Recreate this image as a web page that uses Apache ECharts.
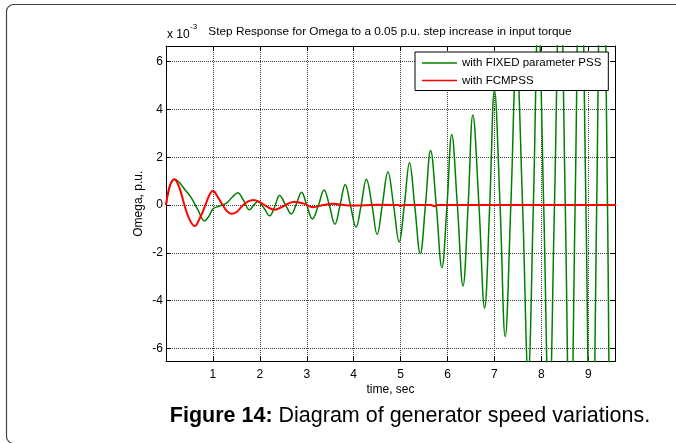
<!DOCTYPE html>
<html>
<head>
<meta charset="utf-8">
<title>Step Response for Omega</title>
<script src="https://cdn.jsdelivr.net/npm/echarts@6/dist/echarts.min.js"></script>
<style>
  html, body { margin: 0; padding: 0; background: #fff; }
  #chart { width: 676px; height: 443px; }
</style>
</head>
<body>
<div id="chart"></div>
<script>
// Time axis (s) and speed deviation (x 10^-3 p.u.) for the two stabilisers
const fixedPssTime = [
  0, 0.05, 0.10, 0.18, 0.28, 0.40, 0.54, 0.68, 0.82, 0.92,
  1.00, 1.14, 1.29, 1.42, 1.53, 1.65, 1.78, 1.87, 1.96, 2.08,
  2.21, 2.32, 2.42, 2.55, 2.67, 2.78, 2.89, 3.00, 3.12, 3.25,
  3.37, 3.48, 3.60, 3.71, 3.82, 3.93, 4.05, 4.16, 4.27, 4.39,
  4.50, 4.61, 4.73, 4.85, 4.97, 5.08, 5.19, 5.30, 5.42, 5.53,
  5.64, 5.76, 5.88, 5.99, 6.09, 6.21, 6.33, 6.44, 6.54, 6.67,
  6.79, 6.90, 7.00, 7.12, 7.23, 7.35, 7.47, 7.60, 7.72, 7.83,
  7.935, 8.05, 8.165, 8.28, 8.40, 8.51, 8.615, 8.72, 8.83, 8.95,
  9.065, 9.18, 9.295, 9.41, 9.52, 9.60
];
const fixedPssOmega = [
  0, 0.55, 0.90, 1.08, 0.95, 0.65, 0.30, -0.20, -0.66, -0.45,
  -0.16, -0.04, 0.08, 0.35, 0.52, 0.20, -0.20, 0.00, 0.15, -0.10,
  -0.45, -0.05, 0.40, 0.00, -0.37, 0.05, 0.54, 0.00, -0.58, 0.00,
  0.63, 0.00, -0.80, 0.00, 0.86, 0.00, -0.92, 0.00, 1.08, 0.00,
  -1.23, 0.00, 1.38, 0.00, -1.54, 0.00, 1.77, 0.00, -2.03, 0.00,
  2.28, 0.00, -2.61, 0.00, 2.95, 0.00, -3.38, 0.00, 3.77, 0.00,
  -4.30, 0.00, 4.81, 0.00, -5.50, 0.00, 6.20, 0.00, -7.10, 0.00,
  8.00, 0.00, -9.10, 0.00, 10.30, 0.00, -11.60, 0.00, 13.00, 0.00,
  -14.80, 0.00, 16.60, 0.00, -18.50, -16.00
];
const fcmpssTime = [
  0, 0.06, 0.12, 0.18, 0.26, 0.33, 0.40, 0.50, 0.61, 0.72,
  0.82, 0.92, 1.00, 1.10, 1.21, 1.30, 1.39, 1.50, 1.62, 1.75,
  1.87, 2.00, 2.10, 2.31, 2.50, 2.73, 2.95, 3.13, 3.35, 3.55,
  3.80, 4.00, 4.50, 4.95, 5.00, 5.05, 5.65, 5.72, 5.80, 6.50,
  7.50, 8.50, 9.60
];
const fcmpssOmega = [
  0, 0.65, 0.98, 1.08, 0.85, 0.45, -0.05, -0.60, -0.88, -0.55,
  -0.10, 0.40, 0.60, 0.35, 0.00, -0.25, -0.36, -0.30, -0.05, 0.15,
  0.21, 0.12, 0.00, -0.20, -0.05, 0.14, 0.05, -0.09, 0.00, 0.05,
  0.00, -0.02, 0.01, 0.00, -0.04, 0.00, 0.00, -0.05, 0.00, 0.00,
  0.00, 0.00, 0.00
];
const seriesNames = ['with FIXED parameter PSS', 'with FCMPSS'];
const xTickLabels = [1, 2, 3, 4, 5, 6, 7, 8, 9];
const yTickLabels = [-6, -4, -2, 0, 2, 4, 6];

const X_MIN = 0, X_MAX = 9.57;
const Y_MIN = -6.54, Y_MAX = 6.65;

const FONT = "'Liberation Sans', Arial, Helvetica, sans-serif";
const GRID_COLOR = '#3c3c3c';

const zip = (xs, ys) => xs.map((x, i) => [x, ys[i]]);

// fresh objects per axis so the option merge never shares state
const tick = () => ({ show: true, inside: true, length: 5, lineStyle: { color: '#000', width: 1 } });
const axisLine = () => ({ show: true, onZero: false, lineStyle: { color: '#000', width: 1 } });
const legendLine = 'path://M0,0H35V1.6H0Z';

const chart = echarts.init(document.getElementById('chart'), null, { renderer: 'canvas' });

chart.setOption({
  animation: false,
  backgroundColor: '#fff',
  grid: { left: 166, right: 61, top: 46, bottom: 81.5, containLabel: false },
  xAxis: [
    {
      type: 'value', min: X_MIN, max: X_MAX, interval: 1,
      axisLine: axisLine(), axisTick: tick(),
      axisLabel: {
        fontFamily: FONT, fontSize: 12, color: '#000', margin: 7,
        formatter: v => (xTickLabels.includes(v) ? String(v) : '')
      },
      splitLine: { show: true, lineStyle: { color: GRID_COLOR, type: 'dotted', width: 1 } },
      name: 'time, sec', nameLocation: 'middle', nameGap: 22, nameMoveOverlap: false,
      nameTextStyle: { fontFamily: FONT, fontSize: 12, color: '#000' }
    },
    {
      type: 'value', position: 'top', min: X_MIN, max: X_MAX, interval: 1,
      axisLine: axisLine(), axisTick: tick(),
      axisLabel: { show: false }, splitLine: { show: false }
    }
  ],
  yAxis: [
    {
      type: 'value', min: Y_MIN, max: Y_MAX, minInterval: 2, maxInterval: 2,
      axisLine: axisLine(), axisTick: tick(),
      axisLabel: {
        fontFamily: FONT, fontSize: 12, color: '#000', margin: 3,
        formatter: v => (yTickLabels.includes(v) ? String(v) : '')
      },
      splitLine: { show: true, lineStyle: { color: GRID_COLOR, type: 'dotted', width: 1 } },
      name: 'Omega, p.u.', nameLocation: 'middle', nameGap: 21, nameMoveOverlap: false,
      nameTextStyle: { fontFamily: FONT, fontSize: 12, color: '#000' }
    },
    {
      type: 'value', position: 'right', min: Y_MIN, max: Y_MAX, minInterval: 2, maxInterval: 2,
      axisLine: axisLine(), axisTick: tick(),
      axisLabel: { show: false }, splitLine: { show: false }
    }
  ],
  legend: {
    orient: 'vertical', left: 415, top: 52,
    padding: [5, 7, 4, 7], itemGap: 5.5, itemWidth: 35, itemHeight: 12,
    icon: legendLine,
    backgroundColor: '#fff', borderColor: '#000', borderWidth: 1,
    textStyle: { fontFamily: FONT, fontSize: 11.5, color: '#000' },
    data: seriesNames
  },
  series: [
    {
      name: seriesNames[0], type: 'line', data: zip(fixedPssTime, fixedPssOmega),
      smooth: 0.4, symbol: 'none', clip: true,
      lineStyle: { color: '#008000', width: 1.5 }, itemStyle: { color: '#008000' }, z: 3
    },
    {
      name: seriesNames[1], type: 'line', data: zip(fcmpssTime, fcmpssOmega),
      smooth: 0.4, symbol: 'none', clip: true,
      lineStyle: { color: '#ff0000', width: 2 }, itemStyle: { color: '#ff0000' }, z: 4
    }
  ],
  graphic: [
    {
      type: 'rect', silent: true, z: -10,
      shape: { x: 6.5, y: 4.5, width: 720, height: 439, r: 7 },
      style: { fill: null, stroke: '#444', lineWidth: 1.2 }
    },
    {
      type: 'text', silent: true, x: 390, y: 32,
      style: {
        text: 'Step Response for Omega to a 0.05 p.u. step increase in input torque',
        fontFamily: FONT, fontSize: 11.8, fill: '#000', align: 'center', verticalAlign: 'middle'
      }
    },
    {
      type: 'text', silent: true, x: 167, y: 35,
      style: { text: 'x 10', fontFamily: FONT, fontSize: 12, fill: '#000', align: 'left', verticalAlign: 'middle' }
    },
    {
      type: 'text', silent: true, x: 190, y: 27,
      style: { text: '-3', fontFamily: FONT, fontSize: 8, fill: '#000', align: 'left', verticalAlign: 'middle' }
    },
    {
      type: 'text', silent: true, x: 410, y: 416,
      style: {
        text: '{b|Figure 14:} Diagram of generator speed variations.',
        fontFamily: FONT, fontSize: 21.5, fill: '#000', align: 'center', verticalAlign: 'middle',
        rich: { b: { fontFamily: FONT, fontSize: 21.5, fontWeight: 'bold', fill: '#000' } }
      }
    }
  ]
});
</script>
</body>
</html>
